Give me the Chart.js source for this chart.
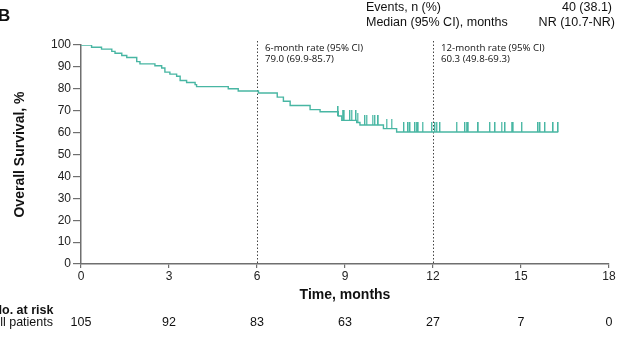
<!DOCTYPE html>
<html>
<head>
<meta charset="utf-8">
<script src="https://cdn.jsdelivr.net/npm/chart.js@4"></script>
<style>
  body { margin: 0; background: #fff; }
  #wrap { width: 626px; height: 338px; }
</style>
</head>
<body>
<div id="wrap"><canvas id="osChart" width="626" height="338"></canvas></div>
<script>
// Kaplan-Meier steps (time in months, survival %)
const kmTimes = [0, 0.36, 0.70, 1.05, 1.16, 1.39, 1.56, 1.90, 2.01, 2.52, 2.75, 2.86, 3.03, 3.26, 3.38, 3.60, 3.89, 3.94, 5.02, 5.36, 6.05, 6.69, 6.90, 7.13, 7.81, 8.15, 8.77, 8.89, 9.40, 9.51, 10.31, 10.76, 16.27];
const kmSurv = [100, 99.0, 98.1, 97.1, 96.2, 95.2, 94.3, 92.4, 91.4, 90.5, 89.5, 87.6, 86.7, 85.7, 83.8, 82.9, 81.9, 81.0, 80.0, 79.0, 78.1, 76.2, 74.3, 72.4, 70.5, 69.5, 67.6, 65.6, 64.6, 63.5, 61.8, 60.3, 60.3];

// censored observations (months)
const censorTimes = [8.77, 8.92, 8.98, 9.17, 9.23, 9.38, 9.43, 9.68, 9.74, 9.94, 10.02, 10.14, 10.42, 10.59, 11.01, 11.16, 11.22, 11.39, 11.45, 11.50, 11.65, 11.96, 12.07, 12.13, 12.24, 12.81, 13.09, 13.15, 13.21, 13.55, 13.94, 14.12, 14.34, 14.46, 14.68, 14.74, 15.03, 15.59, 15.65, 15.82, 16.10, 16.27];

// number at risk
const riskTimes = [0, 3, 6, 9, 12, 15, 18];
const riskCounts = [105, 92, 83, 63, 27, 7, 0];

const landmarks = [
    { t: 6, label: '6-month rate (95% CI)', value: '79.0 (69.9-85.7)' },
    { t: 12, label: '12-month rate (95% CI)', value: '60.3 (49.8-69.3)' }
];

const lineColor = 'rgb(72, 182, 163)';
const axisColor = '#6f6f6f';
const FONT = '"Liberation Sans", Arial, sans-serif';

function survAt(t) {
    let s = kmSurv[0];
    for (let i = 0; i < kmTimes.length; i++) {
        if (kmTimes[i] <= t) s = kmSurv[i];
    }
    return s;
}

// censor mark: small vertical tick sitting above the curve
const tickMark = document.createElement('canvas');
tickMark.width = 2;
tickMark.height = 20;
const tctx = tickMark.getContext('2d');
tctx.fillStyle = lineColor;
tctx.fillRect(0, 0, 1.4, 10);

const textPlugin = {
    id: 'textPlugin',
    beforeDatasetsDraw(chart) {
        const ctx = chart.ctx;
        const x = chart.scales.x;
        const y = chart.scales.y;
        ctx.save();
        ctx.strokeStyle = '#444';
        ctx.lineWidth = 1;
        ctx.setLineDash([1.5, 2]);
        landmarks.forEach(l => {
            const px = Math.round(x.getPixelForValue(l.t)) + 0.5;
            ctx.beginPath();
            ctx.moveTo(px, 41);
            ctx.lineTo(px, y.getPixelForValue(0));
            ctx.stroke();
        });
        ctx.restore();
    },
    afterDraw(chart) {
        const ctx = chart.ctx;
        const x = chart.scales.x;
        const area = chart.chartArea;
        ctx.save();
        ctx.fillStyle = '#111';

        // panel letter
        ctx.font = 'bold 17px ' + FONT;
        ctx.textBaseline = 'middle';
        ctx.textAlign = 'left';
        ctx.fillText('B', -2, 16);

        // summary
        ctx.font = '12.5px ' + FONT;
        ctx.fillText('Events, n (%)', 366, 8);
        ctx.fillText('Median (95% CI), months', 366, 23);
        ctx.textAlign = 'right';
        ctx.fillText('40 (38.1)', 612, 8);
        ctx.fillText('NR (10.7-NR)', 615, 23);

        // landmark annotations
        ctx.font = '9.7px "Open Sans", sans-serif';
        ctx.textAlign = 'left';
        landmarks.forEach(l => {
            const px = x.getPixelForValue(l.t);
            ctx.fillText(l.label, px + 8, 48);
            ctx.fillText(l.value, px + 8, 59.5);
        });

        // x axis title
        ctx.font = 'bold 14px ' + FONT;
        ctx.textAlign = 'center';
        ctx.fillText('Time, months', (area.left + area.right) / 2, 295);

        // risk table
        ctx.font = 'bold 12.5px ' + FONT;
        ctx.textAlign = 'left';
        ctx.fillText('No. at risk', -7, 311);
        ctx.font = '12.5px ' + FONT;
        ctx.textAlign = 'right';
        ctx.fillText('All patients', 53, 323);
        ctx.textAlign = 'center';
        riskTimes.forEach((t, i) => {
            ctx.fillText(String(riskCounts[i]), x.getPixelForValue(t), 323);
        });
        ctx.restore();
    }
};

const ctxOS = document.getElementById('osChart').getContext('2d');
const osChart = new Chart(ctxOS, {
    type: 'line',
    data: {
        datasets: [
            {
                label: 'Censored',
                type: 'scatter',
                data: censorTimes.map(t => ({ x: t, y: survAt(t) })),
                pointStyle: tickMark,
                pointRadius: 10,
                showLine: false
            },
            {
                label: 'All patients',
                data: kmTimes.map((t, i) => ({ x: t, y: kmSurv[i] })),
                borderColor: lineColor,
                borderWidth: 1.4,
                stepped: 'before',
                pointRadius: 0,
                fill: false
            }
        ]
    },
    options: {
        responsive: false,
        animation: false,
        events: [],
        layout: {
            padding: { top: 45, right: 17, left: 0, bottom: 0 }
        },
        plugins: {
            legend: { display: false },
            tooltip: { enabled: false }
        },
        scales: {
            x: {
                type: 'linear',
                min: 0,
                max: 18,
                afterFit: function(scale) { scale.height = 74; },
                ticks: {
                    stepSize: 3,
                    color: '#222',
                    padding: 1,
                    font: { family: FONT, size: 12 }
                },
                grid: {
                    drawOnChartArea: false,
                    color: axisColor,
                    tickLength: 4,
                    lineWidth: 1.2
                },
                border: { color: axisColor, width: 1.5 }
            },
            y: {
                min: 0,
                max: 100,
                afterFit: function(scale) { scale.width = 81; },
                ticks: {
                    stepSize: 10,
                    color: '#222',
                    padding: 2,
                    font: { family: FONT, size: 12 }
                },
                grid: {
                    drawOnChartArea: false,
                    color: axisColor,
                    tickLength: 8,
                    lineWidth: 1.2
                },
                border: { color: axisColor, width: 1.5 },
                title: {
                    display: true,
                    text: 'Overall Survival, %',
                    color: '#111',
                    font: { family: FONT, size: 14, weight: 'bold' },
                    padding: { top: 12 }
                }
            }
        }
    },
    plugins: [textPlugin]
});
</script>
</body>
</html>
